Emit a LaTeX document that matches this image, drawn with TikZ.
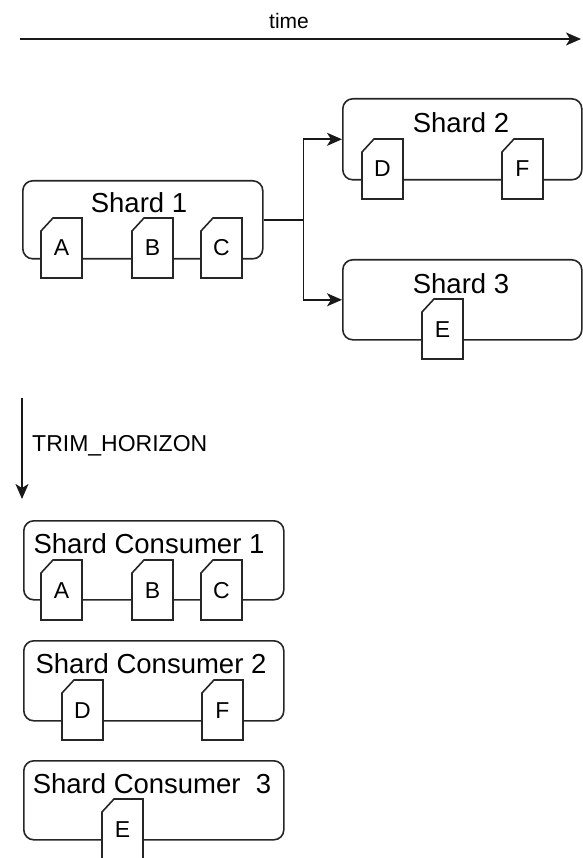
\documentclass[tikz,border=0pt]{standalone}
\usepackage{fontspec}
\setmainfont{Liberation Sans}
\usetikzlibrary{arrows.meta}
\tikzset{
  boxstyle/.style={draw=black!85, line width=1.6pt, rounded corners=10pt, anchor=north west, inner sep=0pt},
  cardstyle/.style={draw=black!85, fill=white, line width=1.6pt, line join=miter},
  cardtext/.style={anchor=base, inner sep=0pt, font=\fontsize{23}{27}\selectfont},
  titletext/.style={anchor=base, inner sep=0pt, font=\fontsize{27.5}{32}\selectfont},
  arr/.style={draw=black!90, line width=1.7pt, -{Stealth[length=15pt,width=13pt,inset=4pt]}},
  conn/.style={draw=black!90, line width=1.7pt},
}
\newcommand\shardcard[4]{%
  \filldraw[cardstyle] (#2,#3+13) -- (#2+12,#3) -- (#2+41,#3) -- (#2+41,#3+60) -- (#2,#3+60) -- cycle;
  \node[cardtext] (#1) at (#2+20.5,#3+38) {#4};
}
\begin{document}
\begin{tikzpicture}[x=1pt,y=-1pt]
\useasboundingbox (0,0) rectangle (582,858);

% time arrow
\coordinate (t0) at (20,39);
\coordinate (t1) at (581,39);
\draw[arr] (t0) -- (t1);
\node[anchor=base, inner sep=0pt, font=\fontsize{21}{25}\selectfont] (time) at (289,29) {time};

% Shard 1
\node[boxstyle, minimum width=240pt, minimum height=78pt] (s1) at (22,180) {};
\node[titletext] (s1t) at (139,213) {Shard 1};
\shardcard{s1a}{41}{218}{A}
\shardcard{s1b}{132}{218}{B}
\shardcard{s1c}{201}{218}{C}

% Shard 2
\node[boxstyle, minimum width=239pt, minimum height=81pt] (s2) at (342,98) {};
\node[titletext] (s2t) at (461,133) {Shard 2};
\shardcard{s2d}{362}{139}{D}
\shardcard{s2f}{502}{139}{F}

% Shard 3
\node[boxstyle, minimum width=239pt, minimum height=80pt] (s3) at (342,259) {};
\node[titletext] (s3t) at (461,293) {Shard 3};
\shardcard{s3e}{422}{299}{E}

% split connectors
\coordinate (split) at ([xshift=40pt]s1.east);
\draw[conn] (s1.east) -- (split);
\draw[arr] (split) |- (s2.west);
\draw[arr] (split) |- (s3.west);

% TRIM_HORIZON arrow
\coordinate (h0) at (22,398);
\coordinate (h1) at (22,499);
\draw[arr] (h0) -- (h1);
\node[anchor=base west, inner sep=0pt, font=\fontsize{23}{27}\selectfont] (trim) at (32,451) {TRIM\_HORIZON};

% Shard Consumer 1
\node[boxstyle, minimum width=260pt, minimum height=79pt] (c1) at (23,520) {};
\node[titletext] (c1t) at (149,553) {Shard Consumer 1};
\shardcard{c1a}{41}{560}{A}
\shardcard{c1b}{132}{560}{B}
\shardcard{c1c}{201}{560}{C}

% Shard Consumer 2
\node[boxstyle, minimum width=260pt, minimum height=80pt] (c2) at (23,640) {};
\node[titletext] (c2t) at (151,673) {Shard Consumer 2};
\shardcard{c2d}{62}{680}{D}
\shardcard{c2f}{202}{680}{F}

% Shard Consumer 3
\node[boxstyle, minimum width=260pt, minimum height=79pt] (c3) at (23,760) {};
\node[titletext] (c3t) at (152,793) {Shard Consumer\ \ 3};
\shardcard{c3e}{102}{799}{E}
\end{tikzpicture}
\end{document}
